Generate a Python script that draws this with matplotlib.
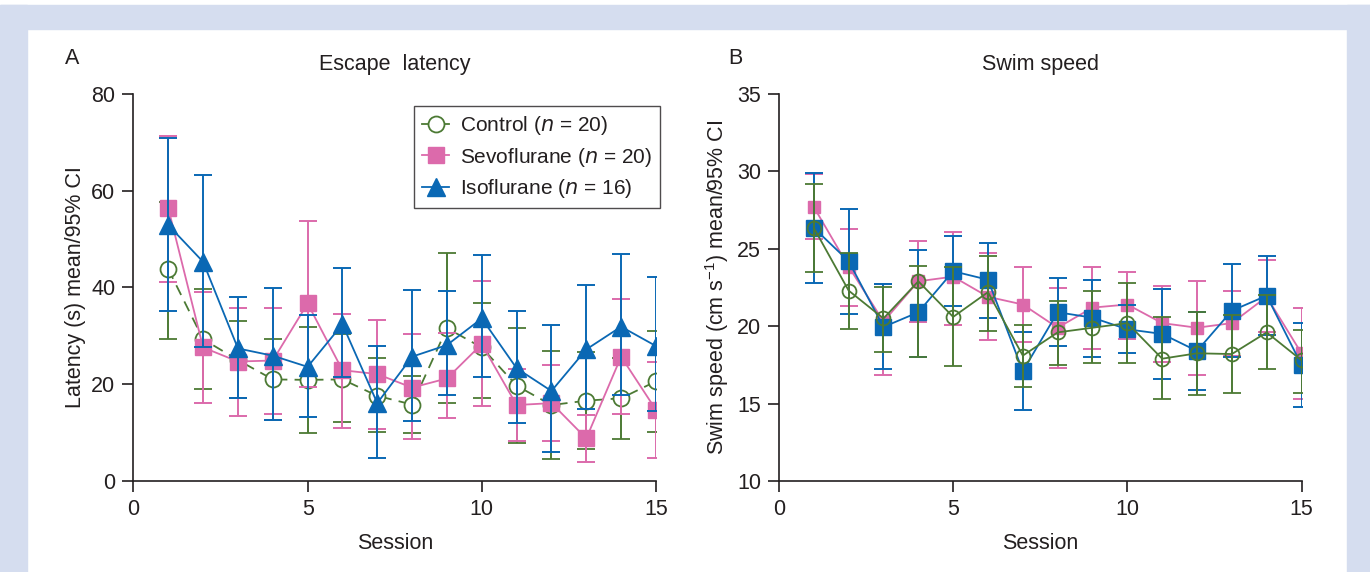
import numpy as np
import matplotlib.pyplot as plt
from matplotlib.patches import Rectangle
from matplotlib.lines import Line2D

plt.rcParams['font.family'] = ['Liberation Sans', 'DejaVu Sans']
plt.rcParams['mathtext.default'] = 'regular'

sessions = np.arange(1, 16)

# escape latency (s): means and 95% CI bounds
ctrl_lat = [43.8, 29.3, 25.0, 21.0, 20.9, 21.0, 17.6, 15.8, 31.6, 27.6, 19.7, 15.7, 16.6, 17.1, 20.6]
ctrl_lat_lo = [29.4, 19.1, 17.2, 12.7, 10.0, 12.2, 10.2, 10.0, 16.1, 17.1, 7.8, 4.5, 6.6, 8.7, 10.1]
ctrl_lat_hi = [57.6, 39.7, 33.1, 29.4, 31.8, 30.3, 25.4, 21.8, 47.2, 36.7, 31.7, 26.9, 26.6, 25.5, 31.1]

sevo_lat = [56.4, 27.6, 24.7, 24.9, 36.7, 22.9, 22.1, 19.3, 21.2, 28.3, 15.7, 16.1, 8.8, 25.7, 14.7]
sevo_lat_lo = [41.2, 16.1, 13.5, 13.9, 19.5, 11.0, 10.7, 8.6, 13.1, 15.6, 8.3, 8.3, 4.0, 13.9, 4.7]
sevo_lat_hi = [71.3, 39.0, 35.8, 35.8, 53.8, 34.6, 33.3, 30.4, 30.5, 41.3, 23.1, 23.9, 13.6, 37.7, 24.7]

iso_lat = [52.9, 45.3, 27.4, 25.9, 23.6, 32.4, 16.1, 25.7, 28.1, 33.6, 23.3, 18.6, 27.2, 31.9, 27.9]
iso_lat_lo = [35.1, 27.6, 17.2, 12.6, 13.3, 21.6, 4.8, 12.3, 17.8, 21.6, 11.9, 5.9, 14.8, 17.8, 14.5]
iso_lat_hi = [70.8, 63.3, 38.0, 39.8, 34.4, 44.0, 27.9, 39.5, 39.2, 46.7, 35.2, 32.2, 40.5, 46.9, 42.2]

# swim speed (cm/s): means and 95% CI bounds
ctrl_spd = [26.35, 22.3, 20.5, 22.9, 20.6, 22.2, 18.1, 19.6, 19.9, 20.2, 17.9, 18.25, 18.2, 19.6, 17.8]
ctrl_spd_lo = [23.5, 19.8, 18.35, 18.0, 17.4, 19.7, 16.05, 17.5, 17.6, 17.6, 15.3, 15.55, 15.7, 17.25, 15.7]
ctrl_spd_hi = [29.2, 24.7, 22.5, 23.9, 23.8, 24.55, 20.1, 21.65, 22.3, 22.8, 20.6, 20.9, 20.7, 22.0, 19.75]

sevo_spd = [27.7, 23.85, 20.3, 22.9, 23.2, 21.9, 21.4, 19.9, 21.2, 21.4, 20.2, 19.9, 20.2, 21.9, 18.25]
sevo_spd_lo = [25.65, 21.3, 16.85, 20.3, 20.1, 19.1, 19.0, 17.3, 18.5, 19.2, 17.7, 16.85, 18.1, 19.6, 15.3]
sevo_spd_hi = [29.8, 26.3, 22.7, 25.5, 26.1, 24.7, 23.8, 22.45, 23.8, 23.5, 22.6, 22.9, 22.3, 24.3, 21.2]

iso_spd = [26.35, 24.2, 19.95, 20.9, 23.55, 23.0, 17.1, 20.9, 20.55, 19.8, 19.5, 18.4, 21.0, 21.97, 17.5]
iso_spd_lo = [22.8, 20.8, 17.25, 18.0, 21.3, 20.5, 14.6, 18.7, 18.0, 18.3, 16.6, 15.9, 18.0, 19.4, 14.8]
iso_spd_hi = [29.9, 27.6, 22.7, 24.9, 25.85, 25.4, 19.65, 23.1, 23.0, 21.4, 22.4, 20.9, 24.0, 24.55, 20.2]

group_labels = [r'Control ($\mathit{n}$ = 20)', r'Sevoflurane ($\mathit{n}$ = 20)', r'Isoflurane ($\mathit{n}$ = 16)']

green = '#4c7a34'
pink = '#dc6aab'
blue = '#0a68b4'
txt = '#231f20'
fs = 15.5


def yerr(mean, lo, hi):
    m = np.array(mean)
    return [m - np.array(lo), np.array(hi) - m]


fig = plt.figure(figsize=(13.7, 5.72), dpi=100)
fig.patch.set_facecolor('white')
frame = '#d5ddef'
fig.patches.append(Rectangle((0, 0.9493), 1, 0.042, transform=fig.transFigure, color=frame, zorder=0))
fig.patches.append(Rectangle((0, 0), 0.0197, 0.9913, transform=fig.transFigure, color=frame, zorder=0))
fig.patches.append(Rectangle((0.9832, 0), 0.0168, 0.9913, transform=fig.transFigure, color=frame, zorder=0))

ax1 = fig.add_axes([0.0974, 0.1591, 0.3814, 0.6766])
ax2 = fig.add_axes([0.5686, 0.1591, 0.3814, 0.6766])

ekw = dict(capsize=6.5, elinewidth=1.4, capthick=1.4)

ctrl_style = dict(color=green, lw=1.3, marker='o', ms=11.5, mfc='white', mec=green, mew=1.3)
sevo_style = dict(color=pink, lw=1.3, marker='s', ms=12, mfc=pink, mec=pink)
iso_style = dict(color=blue, lw=1.3, marker='^', ms=13, mfc=blue, mec=blue)

ax1.errorbar(sessions, ctrl_lat, yerr=yerr(ctrl_lat, ctrl_lat_lo, ctrl_lat_hi), ls=(0, (6, 4)),
             zorder=3, **ctrl_style, **ekw)
ax1.errorbar(sessions, sevo_lat, yerr=yerr(sevo_lat, sevo_lat_lo, sevo_lat_hi), zorder=4, **sevo_style, **ekw)
ax1.errorbar(sessions, iso_lat, yerr=yerr(iso_lat, iso_lat_lo, iso_lat_hi), zorder=5, **iso_style, **ekw)

ax2.errorbar(sessions, ctrl_spd, yerr=yerr(ctrl_spd, ctrl_spd_lo, ctrl_spd_hi), color=green,
             lw=1.3, marker='o', ms=10, mfc='none', mec=green, mew=1.3, zorder=5, **ekw)
ax2.errorbar(sessions, sevo_spd, yerr=yerr(sevo_spd, sevo_spd_lo, sevo_spd_hi), color=pink,
             lw=1.3, marker='s', ms=8.5, mfc=pink, mec=pink, zorder=3, **ekw)
ax2.errorbar(sessions, iso_spd, yerr=yerr(iso_spd, iso_spd_lo, iso_spd_hi), color=blue,
             lw=1.3, marker='s', ms=11.5, mfc=blue, mec=blue, zorder=4, **ekw)

for ax in (ax1, ax2):
    ax.set_xlim(0, 15)
    ax.set_xticks([0, 5, 10, 15])
    for s in ('top', 'right'):
        ax.spines[s].set_visible(False)
    for s in ('left', 'bottom'):
        ax.spines[s].set_linewidth(1.2)
        ax.spines[s].set_color(txt)
    ax.tick_params(length=8, width=1.2, labelsize=fs, colors=txt, pad=5)
    ax.set_xlabel('Session', fontsize=fs, color=txt, labelpad=9)
    ax.patch.set_alpha(0)

ax1.set_ylim(0, 80)
ax1.set_yticks([0, 20, 40, 60, 80])
ax1.set_ylabel('Latency (s) mean/95% CI', fontsize=fs, color=txt, labelpad=4)
ax2.set_ylim(10, 35)
ax2.set_yticks([10, 15, 20, 25, 30, 35])
ax2.set_ylabel(r'Swim speed (cm s$^{-1}$) mean/95% CI', fontsize=fs, color=txt, labelpad=4)

ax1.set_title('Escape  latency', fontsize=fs, color=txt, pad=17)
ax2.set_title('Swim speed', fontsize=fs, color=txt, pad=17)
fig.text(72 / 1370, 1 - 58 / 572, 'A', fontsize=fs, color=txt, ha='center', va='center')
fig.text(735 / 1370, 1 - 58 / 572, 'B', fontsize=fs, color=txt, ha='center', va='center')

handles = [Line2D([], [], **ctrl_style), Line2D([], [], **sevo_style), Line2D([], [], **iso_style)]
leg = ax1.legend(handles, group_labels, loc='upper left', bbox_to_anchor=(414 / 1370, 1 - 106 / 572),
                 bbox_transform=fig.transFigure, fontsize=15, frameon=True, fancybox=False,
                 handlelength=1.3, handletextpad=0.5, labelspacing=0.4, borderpad=0.4,
                 borderaxespad=0)
leg.get_frame().set_edgecolor(txt)
leg.get_frame().set_linewidth(1.0)
for t in leg.get_texts():
    t.set_color(txt)

fig.savefig('out.png', dpi=100, facecolor=fig.get_facecolor())
